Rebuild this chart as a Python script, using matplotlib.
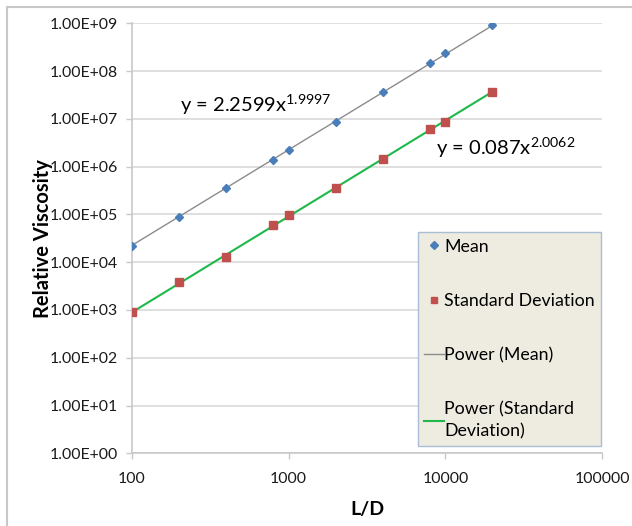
import numpy as np
import matplotlib
matplotlib.use("Agg")
import matplotlib.pyplot as plt
from matplotlib.lines import Line2D
from matplotlib.ticker import FuncFormatter

plt.rcParams['font.family'] = ['Lato', 'DejaVu Sans']

# aspect ratio L/D and measured relative viscosity
ld = [100, 200, 400, 800, 1000, 2000, 4000, 8000, 10000, 20000]
visc_mean = [2.2e4, 8.9e4, 3.55e5, 1.40e6, 2.23e6, 8.8e6, 3.63e7, 1.49e8, 2.35e8, 9.2e8]
visc_std = [895, 3.8e3, 1.3e4, 6.0e4, 9.8e4, 3.56e5, 1.42e6, 6.0e6, 8.65e6, 3.68e7]

# power-law trendlines y = a * x^b
fit_mean = (2.2599, 1.9997)
fit_std = (0.087, 2.0062)

fig = plt.figure(figsize=(6.32, 5.26), dpi=100)
ax = fig.add_axes([0.2089, 0.1382, 0.7436, 0.8175])

xs = np.logspace(2, np.log10(20000), 200)
ax.plot(xs, fit_mean[0] * xs ** fit_mean[1], color='#8c8c8c', lw=1.0, zorder=2)
ax.plot(xs, fit_std[0] * xs ** fit_std[1], color='#1fb84a', lw=1.5, zorder=2)
ax.plot(ld, visc_mean, ls='none', marker='D', ms=4.2, color='#4a7ebb', zorder=3)
ax.plot(ld, visc_std, ls='none', marker='s', ms=5.2, color='#c0504d', zorder=3)

ax.set_xscale('log')
ax.set_yscale('log')
ax.set_xlim(100, 100000)
ax.set_ylim(1, 1e9)
ax.set_yticks([10.0 ** k for k in range(10)])
ax.set_xticks([100, 1000, 10000, 100000])
ax.minorticks_off()
ax.yaxis.set_major_formatter(FuncFormatter(lambda v, p: '1.00E+%02d' % round(np.log10(v))))
ax.xaxis.set_major_formatter(FuncFormatter(lambda v, p: '%d' % round(v)))

ax.grid(axis='y', color='#d9d9d9', lw=1.2)
ax.set_axisbelow(True)
for s in ('top', 'right'):
    ax.spines[s].set_visible(False)
for s in ('left', 'bottom'):
    ax.spines[s].set_color('#c8c8c8')
    ax.spines[s].set_linewidth(1.2)
ax.tick_params(axis='both', direction='out', length=4.5, width=1.0, color='#c8c8c8',
               labelsize=11.4, labelcolor='#1a1a1a')
ax.tick_params(axis='y', pad=6)
ax.tick_params(axis='x', pad=9)

ax.set_ylabel('Relative Viscosity', fontsize=14.5, fontweight='bold')
ax.yaxis.set_label_coords(-0.168, 0.5)
ax.set_xlabel('L/D', fontsize=14, fontweight='bold', labelpad=11)

# trendline equations
ax.text(0.102, 0.8116, 'y = 2.2599x$^{\\mathregular{1.9997}}$', transform=ax.transAxes,
        fontsize=14.5, va='center', ha='left')
ax.text(0.646, 0.7116, 'y = 0.087x$^{\\mathregular{2.0062}}$', transform=ax.transAxes,
        fontsize=14.5, va='center', ha='left')

handles = [
    Line2D([], [], ls='none', marker='D', ms=3.8, color='#4a7ebb'),
    Line2D([], [], ls='none', marker='s', ms=4.8, color='#c0504d'),
    Line2D([], [], color='#8c8c8c', lw=1.0),
    Line2D([], [], color='#1fb84a', lw=1.5),
]
labels = ['Mean', 'Standard Deviation', 'Power (Mean)', 'Power (Standard\nDeviation)']
leg = ax.legend(handles, labels, loc='upper left', bbox_to_anchor=(0.608, 0.514),
                fontsize=12.8, frameon=True, fancybox=False, handlelength=1.1,
                handletextpad=0.05, labelspacing=2.15, borderpad=0.35, borderaxespad=0)
leg.get_texts()[3].set_linespacing(1.45)
leg.get_frame().set_facecolor('#eeece1')
leg.get_frame().set_edgecolor('#a9bdd6')
leg.get_frame().set_linewidth(1.0)
leg.get_frame().set_alpha(1)

# outer chart border
fig.add_artist(Line2D([7 / 632, 1], [1 - 7 / 526] * 2, color='#c8c8c8', lw=1.5))
fig.add_artist(Line2D([7 / 632] * 2, [0, 1 - 7 / 526], color='#c8c8c8', lw=1.5))

fig.savefig('out.png', dpi=100)
